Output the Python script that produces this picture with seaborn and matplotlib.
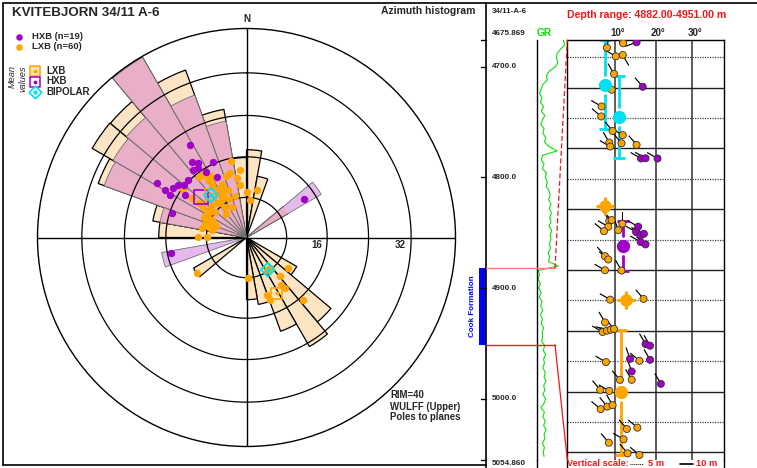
import numpy as np
import pandas as pd
import matplotlib
matplotlib.use("Agg")
import matplotlib.pyplot as plt
import seaborn as sns

sns.set_style("white")
plt.rcParams["font.family"] = ["Liberation Sans", "DejaVu Sans"]

# ---------------- rose diagram: azimuth histogram (10 degree bins, %) ----------------
RIM = 40
lxb_bins = [0, 10, 50, 120, 130, 140, 150, 160, 170, 230, 270, 280, 290, 300, 310, 320, 330, 340, 350]
lxb_freq = [16.8, 11.9, 9.2, 11.1, 21.1, 24.1, 19.1, 13.0, 11.9, 11.7, 16.8, 18.2, 30.2, 34.1, 34.0, 40.0, 34.1, 24.9, 15.3]
hxb_bins = [50, 250, 280, 290, 300, 310, 320, 330, 340]
hxb_freq = [16.5, 16.5, 16.8, 29.0, 29.5, 30.0, 39.8, 29.0, 22.6]

# ---------------- poles to planes (azimuth, dip in degrees) ----------------
hxb_azi = [328.6, 324.1, 327.0, 336.3, 321.8, 325.1, 334.0, 314.7, 310.0, 303.9, 301.1, 300.2,
           299.1, 304.6, 287.9, 258.2, 56.2, 328.0, 307.5]
hxb_dip = [21.4, 18.5, 17.5, 16.3, 17.0, 16.7, 13.4, 16.2, 16.3, 17.5, 20.7, 18.7,
           17.3, 14.8, 15.6, 15.3, 13.7, 15.3, 17.1]
lxb_azi = [307.3, 322.2, 329.3, 326.5, 335.4, 334.2, 345.7, 348.5, 350.6, 0.3, 5.3, 12.1,
           331.4, 325.1, 322.2, 313.0, 303.0, 300.5, 295.7, 295.4, 270.6, 270.7, 305.4, 324.4,
           326.4, 331.7, 320.5, 334.3, 307.0, 296.7, 292.5, 234.3, 177.5, 148.1, 142.7, 139.0,
           126.4, 143.5, 142.8, 160.6, 159.4, 137.7, 309.0, 288.0, 285.6, 328.2, 326.5, 338.7,
           282.3, 318.9, 305.0, 344.5, 352.9, 331.4, 341.6, 305.9, 290.7, 335.6, 282.0, 354.5]
lxb_dip = [15.8, 15.3, 14.2, 12.5, 11.8, 10.9, 13.3, 15.5, 11.9, 9.1, 7.5, 9.7,
           9.6, 7.5, 8.6, 9.5, 9.4, 8.8, 9.5, 7.3, 9.6, 7.9, 11.7, 15.2,
           13.7, 11.1, 8.8, 6.8, 9.1, 7.8, 8.2, 12.2, 8.1, 7.6, 7.7, 10.1,
           10.3, 11.7, 12.6, 12.1, 13.2, 16.7, 8.0, 8.7, 7.7, 9.2, 10.6, 10.1,
           7.0, 6.2, 10.5, 8.5, 10.5, 13.4, 12.8, 13.3, 6.5, 8.4, 9.0, 13.4]

# mean vectors (azimuth, dip)
mean_lxb_azi, mean_lxb_dip = [320.0, 151.6], [11.2, 12.6]
mean_hxb_azi, mean_hxb_dip = [311.7], [12.1]
mean_bip_azi, mean_bip_dip = [320.1, 146.5], [11.0, 7.7]

# ---------------- dip log (depth, dip, dip azimuth) ----------------
lxb_depth = [4677.0, 4678.8, 4682.8, 4690.6, 4689.4, 4706.6, 4720.8, 4735.9, 4744.9, 4758.0,
             4761.8, 4769.1, 4768.5, 4772.1, 4770.6, 4839.5, 4838.5, 4844.5, 4848.5, 4847.6,
             4841.8, 4871.1, 4874.1, 4883.8, 4884.1, 4910.4, 4909.7, 4930.9, 4939.6, 4938.4,
             4937.5, 4936.9, 4966.8, 4965.6, 4982.8, 4982.8, 4991.9, 4992.8, 5009.3, 5007.0,
             5005.7, 5027.2, 5026.0, 5039.6, 5036.5, 5049.2, 5050.7]
lxb_ldip = [11.9, 12.0, 8.3, 10.2, 11.9, 9.8, 9.3, 7.2, 7.1, 9.5,
            11.9, 11.6, 8.8, 9.0, 15.3, 8.8, 9.3, 8.6, 7.7, 10.8,
            11.8, 7.9, 8.6, 7.9, 11.6, 9.0, 17.0, 7.9, 7.4, 8.3,
            9.1, 9.8, 8.1, 16.0, 11.2, 14.1, 6.9, 8.8, 7.0, 8.4,
            9.5, 12.9, 15.5, 8.7, 12.1, 13.1, 16.0]
lxb_lazi = [340, 350, 10, 300, 150, 330, 320, 300, 310, 320,
            300, 320, 330, 300, 320, 330, 315, 300, 310, 340,
            0, 320, 310, 300, 330, 300, 320, 330, 300, 290,
            280, 320, 300, 310, 320, 330, 320, 300, 310, 320,
            330, 320, 310, 320, 300, 320, 310]
hxb_depth = [4677.9, 4718.1, 4782.9, 4782.7, 4782.9, 4844.5, 4849.4, 4852.1, 4850.9, 4858.3,
             4860.5, 4950.5, 4952.0, 4963.8, 4964.7, 4975.3, 4986.4]
hxb_ldip = [15.3, 16.8, 16.4, 17.5, 20.5, 15.7, 15.2, 16.3, 17.1, 16.3,
            17.5, 17.5, 18.6, 13.7, 18.6, 14.1, 21.4]
hxb_lazi = [250, 320, 300, 300, 300, 300, 300, 310, 300, 300,
            310, 330, 330, 340, 330, 340, 330]

# zone statistics: mean dip, mean depth, zone top, zone base
stat_set = ["BIPOLAR", "BIPOLAR", "HXB", "LXB"]
stat_dip = [7.8, 10.9, 12.0, 11.4]
stat_depth = [4716.3, 4745.8, 4862.1, 4993.9]
stat_top = [4676.0, 4708.2, 4839.5, 4937.5]
stat_base = [4756.4, 4782.9, 4884.7, 5050.7]
star_dip = [7.9, 12.7]
star_depth = [4825.9, 4910.4]

# gamma ray log
gr_depth = np.arange(4676, 5053, 4)
gr_api = [130, 138, 118, 100, 96, 104, 92, 62, 48, 52, 30, 22, 14, 26, 18, 34, 22, 40, 28, 20,
          36, 30, 44, 38, 60, 100, 30, 22, 36, 28, 48, 42, 52, 46, 60, 66, 58, 70, 62, 72,
          64, 70, 60, 74, 66, 70, 62, 68, 56, 64, 58, 105, 8, 14, 6, 18, 10, 22, 12, 26,
          20, 30, 18, 28, 22, 34, 26, 30, 24, 40, 32, 44, 34, 38, 30, 42, 36, 46, 34, 40,
          30, 44, 36, 20, 38, 30, 42, 34, 46, 36, 40, 28, 38, 32, 36]

DEPTH_TOP, DEPTH_BOT = 4675.869, 5054.860
depth_ticks = [4700.0, 4800.0, 4900.0, 5000.0]
dip_ticks = [10, 20, 30]
zone_top, zone_base = 4882.0, 4951.0

# ---------------- colours ----------------
PEACH, LILAC, PINK = "#FDE5C4", "#E4BAEC", "#E9AFC8"
ORANGE, PURPLE, CYAN = "#FFA500", "#A000C8", "#00E0F0"
RED, GREEN, BLUE = "#F01818", "#10DD10", "#0000FF"

W, H = 757, 468
fig = plt.figure(figsize=(W / 100, H / 100), dpi=100)
fig.patch.set_facecolor("white")


def fx(x):
    return x / W


def fy(y):
    return 1 - y / H


def wulff(dip):
    return np.tan(np.deg2rad(np.asarray(dip, float)) / 2) / np.tan(np.deg2rad(RIM) / 2)


# ---------------- stereonet / rose ----------------
CX, CY, RP = 246.5, 237.5, 209
pax = fig.add_axes([fx(CX - RP), fy(CY + RP), 2 * RP / W, 2 * RP / H], projection="polar")
pax.set_theta_zero_location("N")
pax.set_theta_direction(-1)
pax.set_facecolor("none")
w10 = np.deg2rad(10)

pax.bar(np.deg2rad(lxb_bins), np.array(lxb_freq) / RIM, width=w10, align="edge",
        color=PEACH, edgecolor="black", linewidth=0.9, zorder=1)
hb = np.deg2rad(hxb_bins)
hh = np.array(hxb_freq) / RIM
lx = dict(zip(lxb_bins, lxb_freq))
overlap = np.array([min(f, lx.get(b, 0.0)) for b, f in zip(hxb_bins, hxb_freq)]) / RIM
pax.bar(hb, hh, width=w10, align="edge", color=LILAC, edgecolor="none", zorder=2)
pax.bar(hb, overlap, width=w10, align="edge", color=PINK, edgecolor="none", zorder=2.1)
pax.bar(hb, hh, width=w10, align="edge", facecolor="none", edgecolor="#707070",
        linewidth=0.6, zorder=2.2)

ring = np.linspace(0, 2 * np.pi, 721)
for d in [8, 16, 24, 32]:
    pax.plot(ring, np.full_like(ring, wulff(d)), color="black", lw=0.9, zorder=3)
for t in [0, 90, 180, 270]:
    pax.plot([np.deg2rad(t)] * 2, [0, 1], color="black", lw=1.0, zorder=3)

sns.scatterplot(x=np.deg2rad(lxb_azi), y=wulff(lxb_dip), color=ORANGE, s=28,
                linewidth=0, ax=pax, zorder=4)
sns.scatterplot(x=np.deg2rad(hxb_azi), y=wulff(hxb_dip), color=PURPLE, s=28,
                linewidth=0, ax=pax, zorder=4)

# mean markers
pax.scatter(np.deg2rad(mean_hxb_azi), wulff(mean_hxb_dip), marker="s", s=110,
            facecolor="none", edgecolor=PURPLE, linewidth=1.2, zorder=5)
pax.scatter(np.deg2rad(mean_lxb_azi), wulff(mean_lxb_dip), marker="s", s=60,
            facecolor="none", edgecolor=ORANGE, linewidth=1.2, zorder=5)
pax.scatter(np.deg2rad(mean_lxb_azi), wulff(mean_lxb_dip), marker="o", s=4,
            color=ORANGE, zorder=5)
pax.scatter(np.deg2rad(mean_bip_azi), wulff(mean_bip_dip), marker="D", s=50,
            facecolor="none", edgecolor=CYAN, linewidth=1.3, zorder=5)
pax.scatter(np.deg2rad(mean_bip_azi), wulff(mean_bip_dip), marker="o", s=6,
            color=CYAN, zorder=5)

pax.set_ylim(0, 1)
pax.set_xticks([])
pax.set_yticks([])
pax.grid(False)
pax.set_xlabel("")
pax.set_ylabel("")
pax.spines["polar"].set_color("black")
pax.spines["polar"].set_linewidth(1.0)

# ---------------- dip log ----------------
TX0, TX1, TY0, TY1 = 567.3, 724.3, 40.0, 459.6
dip_ref = [0, 10, 20, 30, 40]
pos_ref = [0.0, 47.7, 88.4, 125.0, 157.0]


def dip_fwd(v):
    return np.interp(v, dip_ref, pos_ref)


def dip_inv(v):
    return np.interp(v, pos_ref, dip_ref)


tax = fig.add_axes([fx(TX0), fy(TY1), (TX1 - TX0) / W, (TY1 - TY0) / H])
tax.set_xscale("function", functions=(dip_fwd, dip_inv))
tax.set_xlim(0, 40)
tax.set_ylim(DEPTH_BOT, DEPTH_TOP)
tax.set_xticks([])
tax.set_yticks([])
for s in ["top", "right", "left"]:
    tax.spines[s].set_color("black")
    tax.spines[s].set_linewidth(1.0)
tax.spines["bottom"].set_visible(False)
for d in dip_ticks:
    tax.axvline(d, color="#303030", lw=1.1, zorder=1)
grid_first, grid_step = 4691.5, 27.45
for k in range(14):
    g = grid_first + k * grid_step
    if k % 2 == 0:
        tax.axhline(g, color="#404040", lw=0.9, ls=(0, (1, 1)), zorder=1)
    else:
        tax.axhline(g, color="#202020", lw=1.0, zorder=1)

# zone statistics: error bars and mean circles
stat_col = {"BIPOLAR": CYAN, "HXB": PURPLE, "LXB": ORANGE}
for st, dp, dm, top, base in zip(stat_set, stat_dip, stat_depth, stat_top, stat_base):
    c = stat_col[st]
    gap = 9.0
    tax.plot([dp, dp], [top, dm - gap], color=c, lw=2.0, zorder=2)
    tax.plot([dp, dp], [dm + gap, base], color=c, lw=2.0, zorder=2)
    tax.plot([dp, dp], [top, base], ls="none", marker="_", ms=9, mew=2.0, color=c, zorder=2)
    tax.plot(dp, dm, marker="o", ms=8.5, color=c, mec=c, zorder=5)
tax.plot(star_dip, star_depth, ls="none", marker="+", ms=13, mew=2.2, color=ORANGE, zorder=5)
tax.plot(star_dip, star_depth, ls="none", marker="o", ms=8, color=ORANGE, zorder=5)

tad = pd.DataFrame({
    "dip": lxb_ldip + hxb_ldip,
    "depth": lxb_depth + hxb_depth,
    "azi": lxb_lazi + hxb_lazi,
    "set": ["LXB"] * len(lxb_ldip) + ["HXB"] * len(hxb_ldip),
})
az = np.deg2rad(tad["azi"].to_numpy())
tax.quiver(tad["dip"], tad["depth"], np.sin(az), np.cos(az), angles="uv",
           scale_units="dots", scale=1 / 12, units="dots", width=1.2,
           headwidth=0, headlength=0, headaxislength=0, pivot="tail",
           color="black", zorder=3)
sns.scatterplot(data=tad, x="dip", y="depth", hue="set",
                palette={"LXB": ORANGE, "HXB": PURPLE}, s=26, edgecolor="#303030",
                linewidth=0.6, legend=False, ax=tax, zorder=4)
tax.set_xlabel("")
tax.set_ylabel("")
tax.set_xlim(0, 40)
tax.set_ylim(DEPTH_BOT, DEPTH_TOP)

# gamma ray track
GX0 = 536.7
gax = fig.add_axes([fx(GX0), fy(TY1), (TX0 - GX0) / W, (TY1 - TY0) / H])
sns.lineplot(x=gr_api, y=gr_depth, orient="y", estimator=None, color=GREEN, lw=0.8, ax=gax)
gax.set_xlim(0, 150)
gax.set_ylim(DEPTH_BOT, DEPTH_TOP)
gax.set_xticks([])
gax.set_yticks([])
gax.set_xlabel("")
gax.set_ylabel("")
gax.set_facecolor("none")
for s in ["top", "right", "bottom"]:
    gax.spines[s].set_visible(False)
gax.spines["left"].set_color("black")
gax.spines["left"].set_linewidth(1.0)

# ---------------- frames, connectors and text (pixel overlay) ----------------
ov = fig.add_axes([0, 0, 1, 1])
ov.set_xlim(0, W)
ov.set_ylim(H, 0)
ov.axis("off")
ov.patch.set_alpha(0)


def depth_px(d):
    return TY0 + (d - DEPTH_TOP) / (DEPTH_BOT - DEPTH_TOP) * (TY1 - TY0)


ov.plot([3, W], [3, 3], color="black", lw=1.2)
ov.plot([3, 3], [3, 465], color="black", lw=1.2)
ov.plot([3, 485.7], [465, 465], color="black", lw=1.2)
ov.plot([485.7, 485.7], [3, H], color="black", lw=1.2)
ov.plot([GX0, GX0], [TY1, H], color="black", lw=1.0)
ov.plot([TX0, TX0], [TY1, H], color="black", lw=1.0)
ov.plot([TX1, TX1], [TY1, H], color="black", lw=1.0)

yt, yb = depth_px(zone_top), depth_px(zone_base)
ov.plot([485.7, 555.0], [yt, yt], color="#FF8080", lw=1.0)
ov.plot([555.0, TX0], [yt, TY0], color=RED, lw=0.9, ls=(0, (4, 2)))
ov.plot([485.7, 555.0], [yb, yb], color=RED, lw=1.0)
ov.plot([555.0, TX0], [yb, TY1], color=RED, lw=0.9)
ov.add_patch(plt.Rectangle((479.3, yt), 6.4, yb - yt, color=BLUE, lw=0))
ov.text(472.5, (yt + yb) / 2, "Cook Formation", rotation=90, ha="center", va="center",
        color=BLUE, fontsize=5.8, fontweight="bold")

for d in [DEPTH_TOP] + depth_ticks + [DEPTH_BOT]:
    y = depth_px(d)
    ov.plot([480.5, 485.7], [y, y], color="black", lw=1.0)
ov.text(491.5, 33.5, f"{DEPTH_TOP:.3f}", fontsize=5.9, fontweight="bold", va="center")
for d in depth_ticks:
    ov.text(491.5, depth_px(d), f"{d:.1f}", fontsize=5.9, fontweight="bold", va="center")
ov.text(491.5, 463.5, f"{DEPTH_BOT:.3f}", fontsize=5.9, fontweight="bold", va="center")

ov.text(491.5, 11.5, "34/11-A-6", fontsize=5.8, fontweight="bold", va="center")
ov.text(646.5, 15.5, f"Depth range: {zone_top:.2f}-{zone_base:.2f} m", fontsize=7.6,
        fontweight="bold", color=RED, ha="center", va="center")
ov.text(537.0, 33.5, "GR", fontsize=7.4, fontweight="bold", color=GREEN, va="center")
for d in dip_ticks:
    xp = TX0 + dip_fwd(d) * (TX1 - TX0) / 157.0
    ov.text(xp + 2.5, 33.5, f"{d}°", fontsize=7, fontweight="bold", ha="center", va="center")

ov.text(567.3, 463.5, "Vertical scale:", fontsize=6.7, fontweight="bold", color=RED, va="center")
ov.plot([630, 643], [463.5, 463.5], color="black", lw=0.7, ls=(0, (1, 1)))
ov.text(648, 463.5, "5 m", fontsize=6.7, fontweight="bold", color=RED, va="center")
ov.plot([680, 693], [463.5, 463.5], color="black", lw=1.2)
ov.text(695.5, 463.5, "10 m", fontsize=6.7, fontweight="bold", color=RED, va="center")

# left panel titles and legend
ov.text(11.5, 13.5, "KVITEBJORN 34/11 A-6", fontsize=9.6, fontweight="bold", va="center")
ov.text(475, 10.5, "Azimuth histogram", fontsize=7.5, fontweight="bold", ha="right", va="center")
ov.text(CX, 19.5, "N", fontsize=7, fontweight="bold", ha="center", va="center")
ov.scatter([18.5], [36.5], s=22, color=PURPLE, lw=0)
ov.text(31.5, 36.5, "HXB (n=19)", fontsize=6.8, fontweight="bold", va="center")
ov.scatter([18.5], [46.5], s=22, color=ORANGE, lw=0)
ov.text(31.5, 46.5, f"LXB (n={len(lxb_azi)})", fontsize=6.8, fontweight="bold", va="center")
ov.text(12.5, 76, "Mean", rotation=90, fontsize=6.6, fontstyle="italic", ha="center", va="center")
ov.text(22.5, 79, "values", rotation=90, fontsize=6.6, fontstyle="italic", ha="center", va="center")
ov.scatter([34.5], [71], marker="s", s=55, facecolor=PEACH, edgecolor=ORANGE, lw=1.1)
ov.scatter([34.5], [71], s=3, color=ORANGE)
ov.text(46, 71, "LXB", fontsize=7, fontweight="bold", va="center")
ov.scatter([34.5], [81.5], marker="s", s=55, facecolor="white", edgecolor=PURPLE, lw=1.1)
ov.scatter([34.5], [81.5], s=3, color=PURPLE)
ov.text(46, 81.5, "HXB", fontsize=7, fontweight="bold", va="center")
ov.scatter([34.5], [92], marker="D", s=40, facecolor="white", edgecolor=CYAN, lw=1.2)
ov.scatter([34.5], [92], s=4, color=CYAN)
ov.text(46, 92, "BIPOLAR", fontsize=7, fontweight="bold", va="center")

ov.text(CX + RP * wulff(16) - 5, 245, "16", fontsize=7, fontweight="bold", ha="right", va="center")
ov.text(CX + RP * wulff(32) - 5, 245, "32", fontsize=7, fontweight="bold", ha="right", va="center")
ov.text(390, 395.5, "RIM=40", fontsize=6.9, fontweight="bold", va="center")
ov.text(390, 406.5, "WULFF (Upper)", fontsize=6.9, fontweight="bold", va="center")
ov.text(390, 417, "Poles to planes", fontsize=6.9, fontweight="bold", va="center")

fig.savefig("out.png", dpi=100, facecolor="white")
